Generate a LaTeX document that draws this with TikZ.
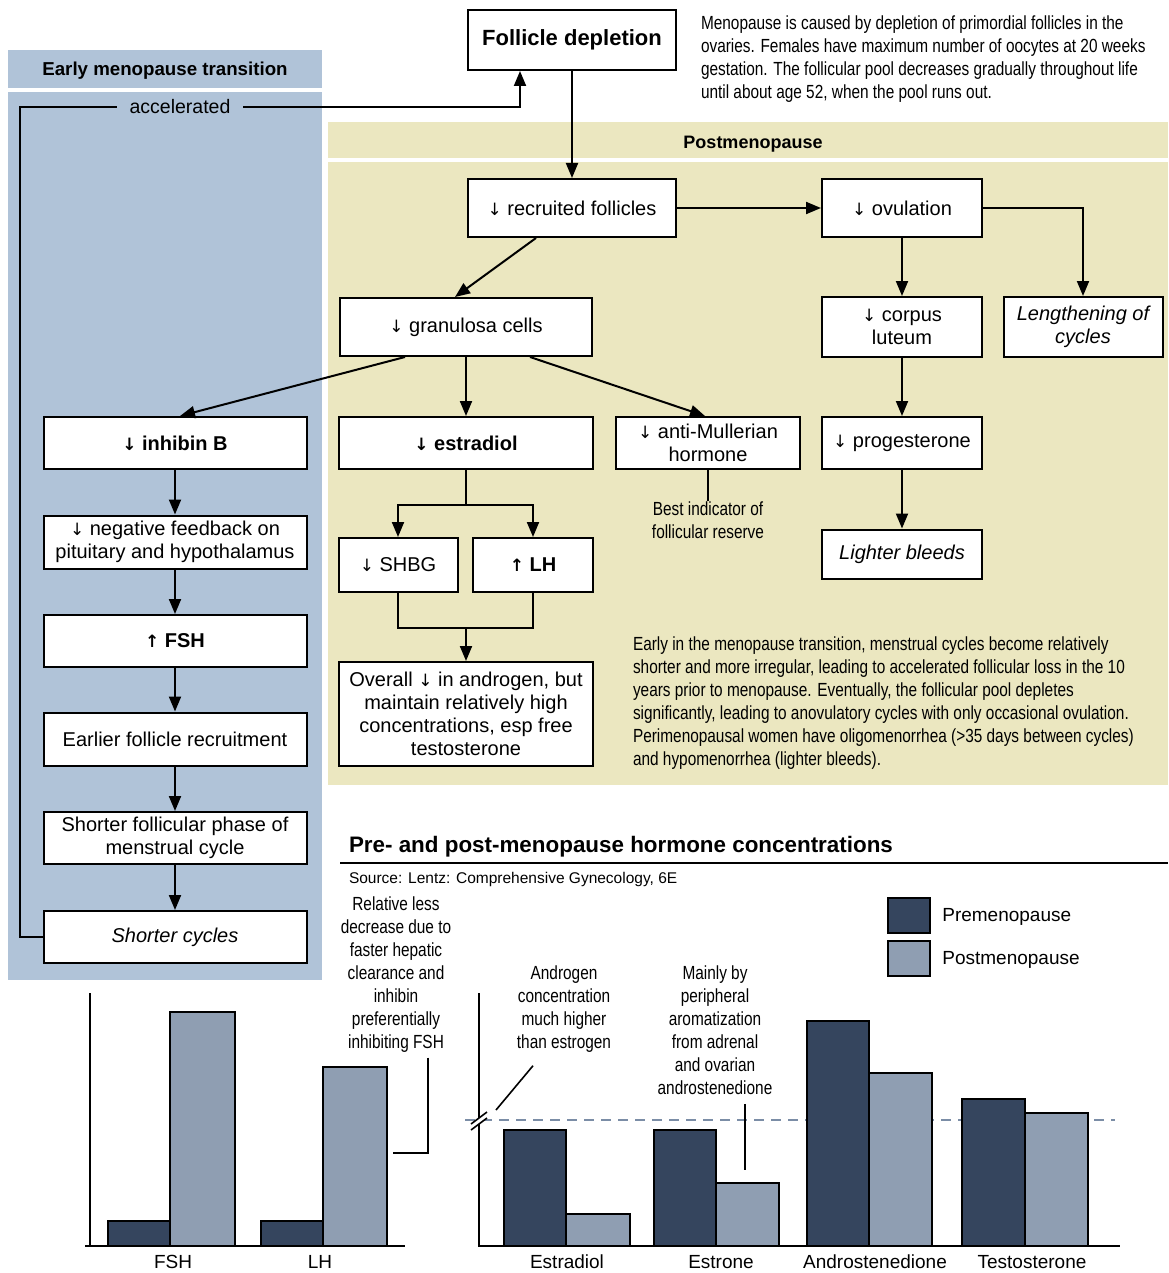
\documentclass[tikz,border=0pt]{standalone}
\usepackage{fontspec}
\setmainfont{Liberation Sans}
\newfontfamily\condfont[FakeStretch=0.81]{Liberation Sans}
\newfontfamily\arrowglyph{DejaVu Sans}
\usepackage{tikz}
\usetikzlibrary{arrows.meta}
\usepackage{xcolor}
\definecolor{panelblue}{HTML}{B0C3D8}
\definecolor{panelyellow}{HTML}{EBE7C0}
\definecolor{barpre}{HTML}{35455E}
\definecolor{barpost}{HTML}{8F9EB2}
\definecolor{dashblue}{HTML}{7B8DA6}
\newcommand\flowfont{\fontsize{20}{23}\selectfont}
\newcommand\notefont{\condfont\fontsize{19}{23}\selectfont}
\newcommand\axisfont{\fontsize{19}{22}\selectfont}
\newcommand\dnarrow{{\arrowglyph\fontsize{17}{20}\selectfont ↓}}
\newcommand\uparr{{\arrowglyph\fontsize{17}{20}\selectfont ↑}}

\begin{document}
\begin{tikzpicture}[x=1pt,y=-1pt,>={Triangle[length=15pt,width=12pt]},line width=2pt,
  flowbox/.style={draw,fill=white,align=center,font=\flowfont,inner sep=0pt,minimum width=#1,minimum height=52},
  note/.style={font=\notefont,align=center,inner sep=0pt},
  leader/.style={line width=1.6pt},
  prebar/.style={draw=black,line width=1.6pt,fill=barpre},
  postbar/.style={draw=black,line width=1.6pt,fill=barpost}]
\useasboundingbox (0,0) rectangle (1168,1273);
\fill[panelblue] (8,50) rectangle (322,88);
\fill[panelblue] (8,92) rectangle (322,980);
\fill[panelyellow] (328,122) rectangle (1168,158);
\fill[panelyellow] (328,162) rectangle (1168,785);
\node[font=\bfseries\fontsize{18.7}{21}\selectfont] (earlyhead) at (165,71) {Early menopause transition};
\node[font=\bfseries\fontsize{18}{20}\selectfont] (posthead) at (753,144) {Postmenopause};

\node[flowbox=208,minimum height=60,font=\bfseries\fontsize{22}{26}\selectfont] (fdep) at (572,40) {Follicle depletion};
\node[flowbox=208,minimum height=58] (rec) at (572,208) {\dnarrow\ recruited follicles};
\node[flowbox=160,minimum height=58] (ovu) at (902,208) {\dnarrow\ ovulation};
\node[flowbox=252,minimum height=58] (gran) at (466,327) {\dnarrow\ granulosa cells};
\node[flowbox=160,minimum height=60] (corp) at (902,327) {\dnarrow\ corpus\\luteum};
\node[flowbox=159,minimum height=60,font=\flowfont\itshape] (leng) at (1083,327) {Lengthening of\\cycles};
\node[flowbox=263] (inh) at (175,443) {\bfseries\dnarrow\ inhibin B};
\node[flowbox=254] (estr) at (466,443) {\bfseries\dnarrow\ estradiol};
\node[flowbox=184] (amh) at (708,443) {\dnarrow\ anti-Mullerian\\hormone};
\node[flowbox=160] (prog) at (902,443) {\dnarrow\ progesterone};
\node[flowbox=263,minimum height=53] (neg) at (175,542) {\dnarrow\ negative feedback on\\pituitary and hypothalamus};
\node[flowbox=160,minimum height=49,font=\flowfont\itshape] (bleed) at (902,554) {Lighter bleeds};
\node[flowbox=119,minimum height=54] (shbg) at (398,565) {\dnarrow\ SHBG};
\node[flowbox=120,minimum height=54] (lh) at (533,565) {\bfseries\uparr\ LH};
\node[flowbox=263] (fsh) at (175,641) {\bfseries\uparr\ FSH};
\node[flowbox=254,minimum height=104] (overall) at (466,714) {Overall \dnarrow\ in androgen, but\\maintain relatively high\\concentrations, esp free\\testosterone};
\node[flowbox=263,minimum height=53] (earl) at (175,739) {Earlier follicle recruitment};
\node[flowbox=263] (foll) at (175,838) {Shorter follicular phase of\\menstrual cycle};
\node[flowbox=263,font=\flowfont\itshape] (shcyc) at (175,937) {Shorter cycles};
\node[font=\fontsize{19.5}{22}\selectfont,inner xsep=12pt] (acc) at (180,107) {accelerated};
\node[note] (amhnote) at (708,520) {Best indicator of\\follicular reserve};

\coordinate (looptop) at (20,107);
\coordinate (esplit) at (466,505);
\coordinate (ajoin) at (466,628);
\draw (shcyc.west) -| (looptop) -- (acc.west);
\draw[->] (acc.east) -| ([xshift=-52pt]fdep.south);
\draw[->] (fdep) -- (rec);
\draw[->] (rec) -- (ovu);
\draw[->] (ovu.east) -| (leng.north);
\draw[->] (ovu) -- (corp);
\draw[->] (corp) -- (prog);
\draw[->] (prog) -- (bleed);
\draw[->] ([xshift=-36pt]rec.south) -- ([xshift=-11pt]gran.north);
\draw[->] ([xshift=-61pt]gran.south) -- ([xshift=5pt]inh.north);
\draw[->] (gran) -- (estr);
\draw[->] ([xshift=64pt]gran.south) -- ([xshift=-3pt]amh.north);
\draw (amh) -- (amhnote);
\draw[->] (inh) -- (neg);
\draw[->] (neg) -- (fsh);
\draw[->] (fsh) -- (earl);
\draw[->] (earl) -- (foll);
\draw[->] (foll) -- (shcyc);
\draw (estr) -- (esplit);
\draw[->] (esplit) -| (shbg);
\draw[->] (esplit) -| (lh);
\draw (shbg) |- (ajoin) -| (lh);
\draw[->] (ajoin) -- (overall);

\node[note,anchor=north west,align=left] (intro) at (700,15) {Menopause is caused by depletion of primordial follicles in the\\ovaries. Females have maximum number of oocytes at 20 weeks\\gestation. The follicular pool decreases gradually throughout life\\until about age 52, when the pool runs out.};
\node[note,anchor=north west,align=left] (trans) at (632,636) {Early in the menopause transition, menstrual cycles become relatively\\shorter and more irregular, leading to accelerated follicular loss in the 10\\years prior to menopause. Eventually, the follicular pool depletes\\significantly, leading to anovulatory cycles with only occasional ovulation.\\Perimenopausal women have oligomenorrhea (>35 days between cycles)\\and hypomenorrhea (lighter bleeds).};

\node[anchor=west,inner sep=0pt,font=\bfseries\fontsize{22.4}{26}\selectfont] (title) at (348,847) {Pre- and post-menopause hormone concentrations};
\draw[line width=1.5pt] (340,863) -- (1168,863);
\node[anchor=west,inner sep=0pt,font=\fontsize{15.5}{18}\selectfont] (src) at (348,879) {Source: Lentz: Comprehensive Gynecology, 6E};

\draw[prebar] (888,898) rectangle (930,933);
\draw[postbar] (888,941) rectangle (930,976);
\node[anchor=west,font=\axisfont] (legpre) at (938,917) {Premenopause};
\node[anchor=west,font=\axisfont] (legpost) at (938,960) {Postmenopause};

\draw[prebar] (108,1246) rectangle (170,1221);
\draw[postbar] (170,1246) rectangle (235,1012);
\draw[prebar] (261,1246) rectangle (323,1221);
\draw[postbar] (323,1246) rectangle (387,1067);
\draw (90,993) -- (90,1246);
\draw (85,1246) -- (405,1246);
\node[font=\axisfont] (labfsh) at (173,1262) {FSH};
\node[font=\axisfont] (lablh) at (320,1262) {LH};

\draw[dashblue,dash pattern=on 10pt off 7pt] (465,1120) -- (1115,1120);
\draw[prebar] (504,1246) rectangle (566,1130);
\draw[postbar] (566,1246) rectangle (630,1214);
\draw[prebar] (654,1246) rectangle (716,1130);
\draw[postbar] (716,1246) rectangle (779,1183);
\draw[prebar] (807,1246) rectangle (869,1021);
\draw[postbar] (869,1246) rectangle (932,1073);
\draw[prebar] (962,1246) rectangle (1025,1099);
\draw[postbar] (1025,1246) rectangle (1088,1113);
\draw (479,993) -- (479,1246) -- (1120,1246);
\fill[white] (471,1124) -- (487,1112) -- (487,1118) -- (471,1130) -- cycle;
\draw[leader] (471,1124) -- (487,1112);
\draw[leader] (471,1130) -- (487,1118);
\node[font=\axisfont] (labestr) at (567,1262) {Estradiol};
\node[font=\axisfont] (labestro) at (721,1262) {Estrone};
\node[font=\axisfont] (labandr) at (875,1262) {Androstenedione};
\node[font=\axisfont] (labtest) at (1032,1262) {Testosterone};

\node[note,anchor=north] (relnote) at (396,896) {Relative less\\decrease due to\\faster hepatic\\clearance and\\inhibin\\preferentially\\inhibiting FSH};
\node[note,anchor=north] (andnote) at (564,965) {Androgen\\concentration\\much higher\\than estrogen};
\node[note,anchor=north] (mainnote) at (715,965) {Mainly by\\peripheral\\aromatization\\from adrenal\\and ovarian\\androstenedione};
\coordinate (relend) at (393,1153);
\coordinate (andend) at (496,1110);
\coordinate (mainend) at (745,1170);
\draw[leader] ([xshift=32pt,yshift=-4pt]relnote.south) |- (relend);
\draw[leader] ([xshift=-31pt,yshift=-12pt]andnote.south) -- (andend);
\draw[leader] ([xshift=30pt,yshift=-8pt]mainnote.south) -- (mainend);
\end{tikzpicture}
\end{document}
